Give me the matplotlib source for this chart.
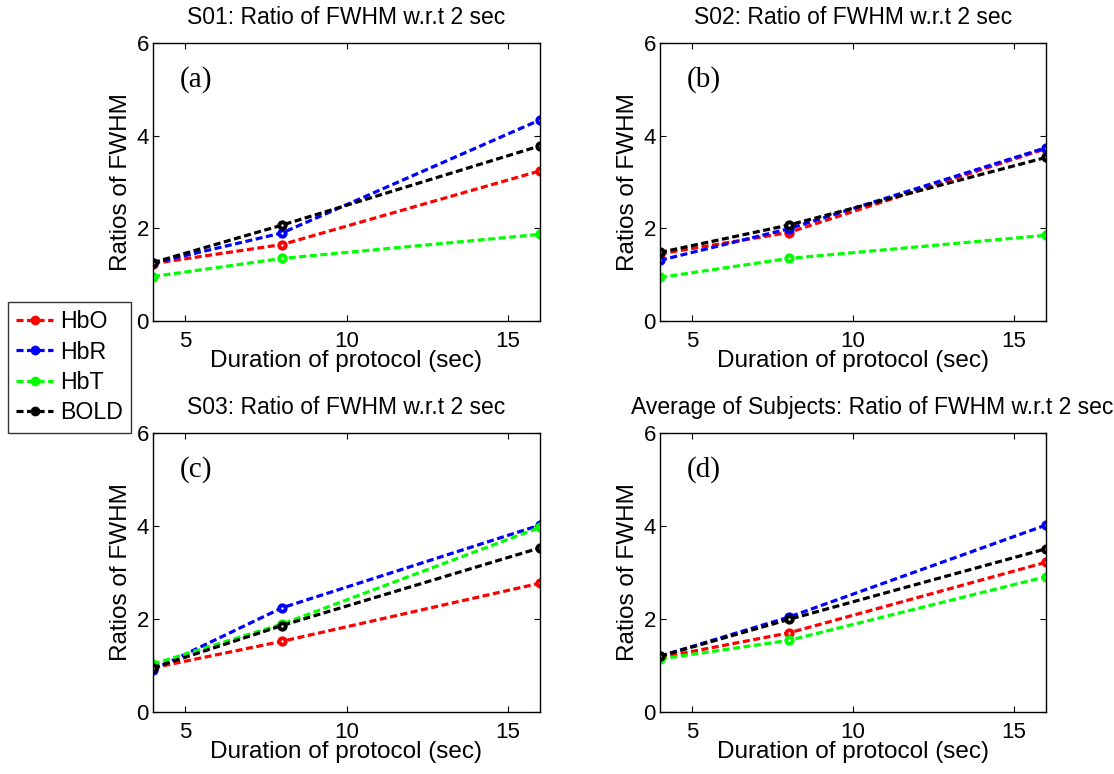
import matplotlib
matplotlib.use("Agg")
import matplotlib.pyplot as plt
from matplotlib.lines import Line2D

# durations of the protocol (sec)
durations = [4, 8, 16]

# ratio of FWHM w.r.t 2 sec, one list per signal for each subject
s01_hbo = [1.24, 1.65, 3.24]
s01_hbr = [1.25, 1.90, 4.34]
s01_hbt = [0.96, 1.35, 1.87]
s01_bold = [1.26, 2.07, 3.78]

s02_hbo = [1.45, 1.91, 3.72]
s02_hbr = [1.31, 1.99, 3.74]
s02_hbt = [0.94, 1.35, 1.85]
s02_bold = [1.48, 2.07, 3.53]

s03_hbo = [0.95, 1.52, 2.77]
s03_hbr = [0.91, 2.24, 4.02]
s03_hbt = [1.03, 1.89, 3.97]
s03_bold = [0.95, 1.86, 3.53]

avg_hbo = [1.17, 1.70, 3.22]
avg_hbr = [1.20, 2.04, 4.02]
avg_hbt = [1.14, 1.54, 2.91]
avg_bold = [1.20, 1.99, 3.51]

signal_names = ["HbO", "HbR", "HbT", "BOLD"]
signal_colors = ["#ff0000", "#0000ff", "#00ff00", "#000000"]

panels = [
    ("S01: Ratio of FWHM w.r.t 2 sec", "(a)", [s01_hbo, s01_hbr, s01_hbt, s01_bold]),
    ("S02: Ratio of FWHM w.r.t 2 sec", "(b)", [s02_hbo, s02_hbr, s02_hbt, s02_bold]),
    ("S03: Ratio of FWHM w.r.t 2 sec", "(c)", [s03_hbo, s03_hbr, s03_hbt, s03_bold]),
    ("Average of Subjects: Ratio of FWHM w.r.t 2 sec", "(d)",
     [avg_hbo, avg_hbr, avg_hbt, avg_bold]),
]

plt.rcParams["font.family"] = ["Liberation Sans", "DejaVu Sans"]
plt.rcParams["font.size"] = 16

W, H = 1114, 774
fig = plt.figure(figsize=(W / 100, H / 100), dpi=100)

# axes boxes in pixels: left, top, right, bottom
boxes = [(153, 43, 540, 321), (660, 43, 1046, 321),
         (153, 433, 540, 712), (660, 433, 1046, 712)]
# the long title of the last panel sits a little to the right
title_x = [0.5, 0.5, 0.5, 0.55]

dash = (0, (2.2, 1.1))
line_kw = dict(linestyle=dash, linewidth=2.3, marker="o", markersize=4.6,
               markerfacecolor="white", markeredgewidth=2.8)

for (title, tag, series), (l, t, r, b), tx in zip(panels, boxes, title_x):
    ax = fig.add_axes([l / W, 1 - b / H, (r - l) / W, (b - t) / H])
    for vals, col in zip(series, signal_colors):
        ax.plot(durations, vals, color=col, markeredgecolor=col, **line_kw)
    ax.set_xlim(4, 16)
    ax.set_ylim(0, 6)
    ax.set_xticks([5, 10, 15])
    ax.set_yticks([0, 2, 4, 6])
    ax.tick_params(direction="in", length=4, width=0.8, top=True, right=True,
                   labelsize=16)
    ax.tick_params(axis="x", pad=7)
    ax.tick_params(axis="y", pad=3)
    for sp in ax.spines.values():
        sp.set_linewidth(1.0)
    ax.set_title(title, fontsize=16.5, pad=14, x=tx)
    ax.set_xlabel("Duration of protocol (sec)", fontsize=17.5, labelpad=-1)
    ax.set_ylabel("Ratios of FWHM", fontsize=17.5, labelpad=3)
    ax.text(0.07, 0.87, tag, transform=ax.transAxes, fontsize=21,
            family=["Liberation Serif", "DejaVu Serif"], va="center", ha="left")

handles = [Line2D([], [], color=c, markeredgecolor=c, markerfacecolor=c,
                  linestyle=dash, linewidth=2.3, marker="o", markersize=6)
           for c in signal_colors]
leg = fig.legend(handles, signal_names, loc="upper left",
                 bbox_to_anchor=(8 / W, 1 - 302 / H), fontsize=16.7,
                 frameon=True, fancybox=False, edgecolor="black",
                 handlelength=1.6, handletextpad=0.3, borderpad=0.35,
                 labelspacing=0.32, borderaxespad=0)
leg.get_frame().set_linewidth(1.0)

fig.savefig("out.png", dpi=100)
